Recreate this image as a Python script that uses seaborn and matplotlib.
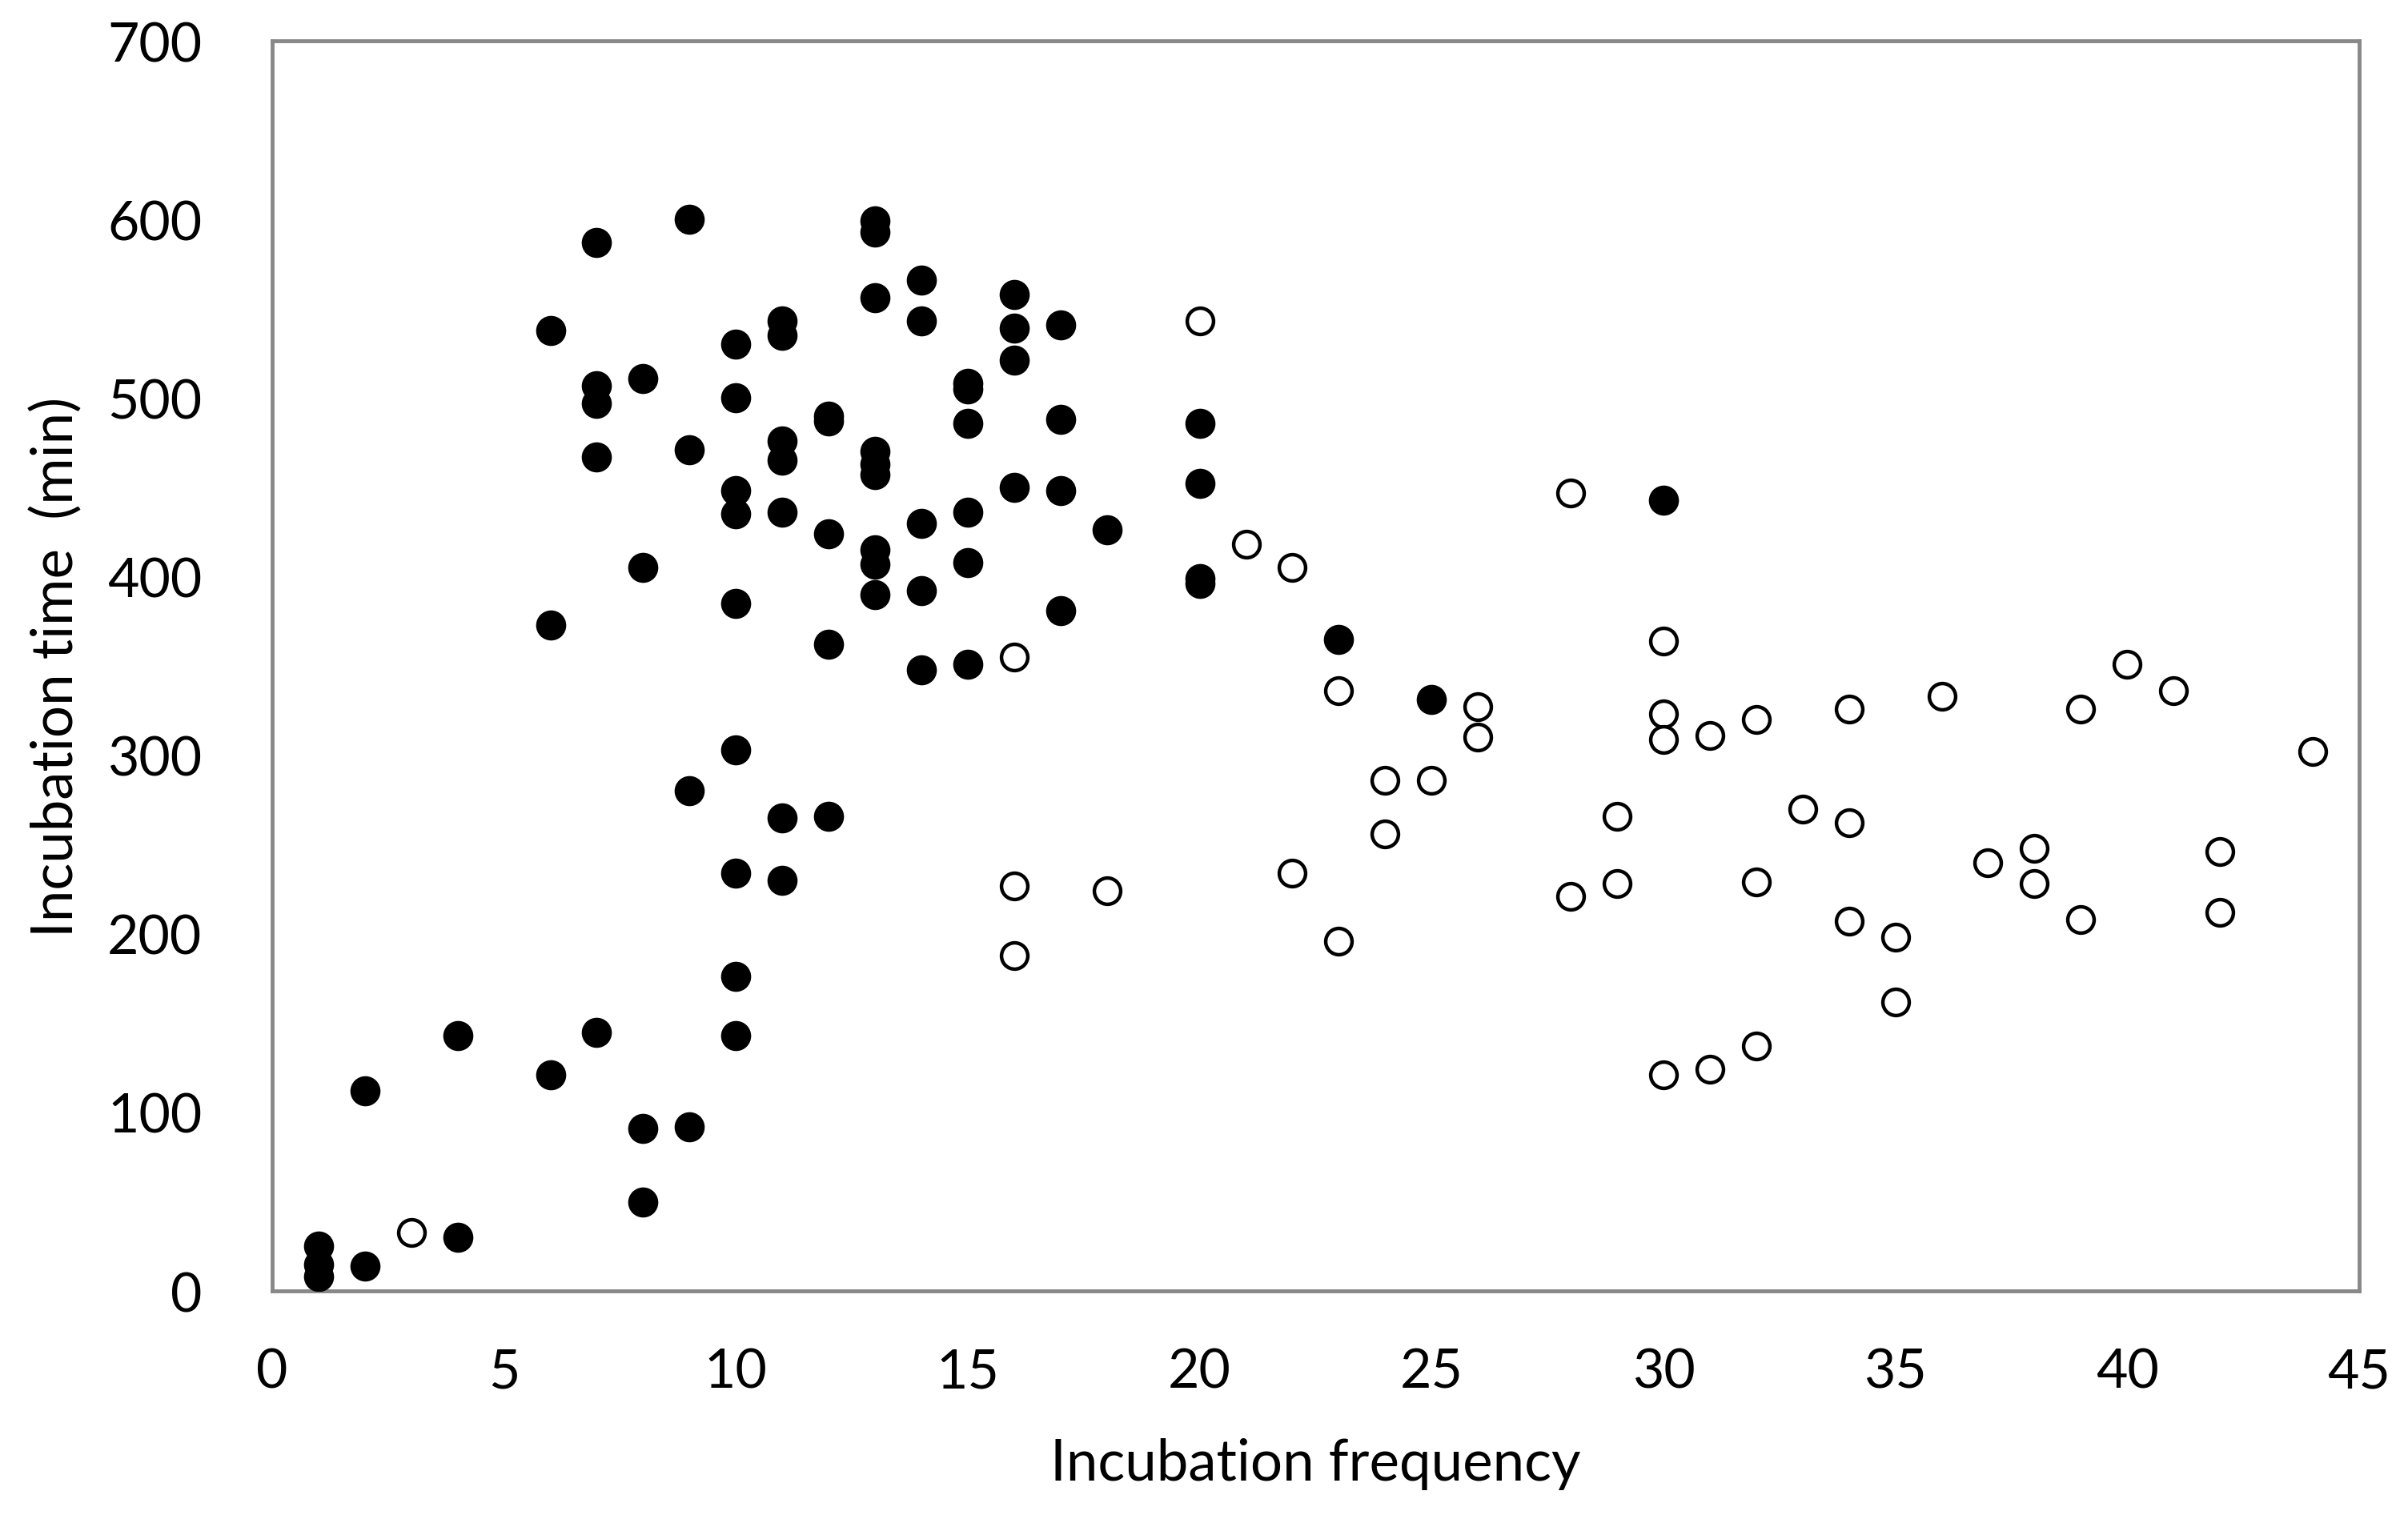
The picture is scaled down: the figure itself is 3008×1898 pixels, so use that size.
import matplotlib
matplotlib.use("Agg")
import matplotlib.pyplot as plt
import seaborn as sns
import pandas as pd

# filled circles
filled_x = [1, 1, 1, 2, 2, 4, 4,
            6, 6, 6, 7, 7, 7, 7, 7, 8, 8, 8, 8, 9, 9, 9, 9,
            10, 10, 10, 10, 10, 10, 10, 10, 10,
            11, 11, 11, 11, 11, 11, 11,
            12, 12, 12, 12, 12,
            13, 13, 13, 13, 13, 13, 13, 13, 13,
            14, 14, 14, 14, 14,
            15, 15, 15, 15, 15, 15,
            16, 16, 16, 16,
            17, 17, 17, 17,
            18, 20, 20, 20, 20, 23, 25, 30]
filled_y = [25, 15, 8, 112, 14, 143, 30,
            538, 373, 121, 587, 507, 497, 467, 145, 511, 405, 91, 50, 600, 471, 280, 92,
            530, 500, 448, 435, 385, 303, 234, 176, 143,
            543, 535, 476, 465, 436, 265, 230,
            490, 487, 424, 362, 266,
            599, 593, 556, 470, 463, 457, 415, 407, 390,
            566, 543, 430, 392, 348,
            508, 505, 486, 436, 408, 351,
            558, 539, 521, 450,
            541, 488, 448, 381,
            426, 486, 452, 399, 396, 365, 331, 443]

# open circles
open_x = [3, 16, 16, 16, 18, 20, 21, 22, 22, 23, 23, 24, 24, 25, 26, 26,
          28, 28, 29, 29, 30, 30, 30, 30, 31, 31, 32, 32, 32, 33,
          34, 34, 34, 35, 35, 36, 37, 38, 38, 39, 39, 40, 41, 42, 42, 44]
open_y = [33, 355, 227, 188, 224, 543, 418, 405, 234, 336, 196, 286, 256, 286, 327, 310,
          447, 221, 266, 228, 364, 323, 309, 121, 311, 124, 320, 229, 137, 270,
          326, 262, 207, 198, 162, 333, 240, 248, 228, 326, 208, 351, 336, 246, 212, 302]

x_ticks = [0, 5, 10, 15, 20, 25, 30, 35, 40, 45]
y_ticks = [0, 100, 200, 300, 400, 500, 600, 700]

df_filled = pd.DataFrame({"freq": filled_x, "time": filled_y})
df_open = pd.DataFrame({"freq": open_x, "time": open_y})

sns.set_style("white")
plt.rcParams["font.family"] = ["Lato", "DejaVu Sans"]

fig = plt.figure(figsize=(30.08, 18.99), dpi=100)
ax = fig.add_axes([0.113, 0.150, 0.8667, 0.8226])

sns.scatterplot(data=df_filled, x="freq", y="time", ax=ax, s=680,
                color="black", edgecolor="black", linewidth=1, zorder=3)
sns.scatterplot(data=df_open, x="freq", y="time", ax=ax, s=560,
                facecolor="white", edgecolor="black", linewidth=3.2, zorder=3)

ax.set_xlim(0, 45)
ax.set_ylim(0, 700)
ax.set_xticks(x_ticks)
ax.set_yticks(y_ticks)
ax.tick_params(axis="both", direction="in", length=16, width=3.5, color="#888888",
               labelsize=49, labelcolor="black")
ax.tick_params(axis="x", pad=51)
ax.tick_params(axis="y", pad=63)
for sp in ax.spines.values():
    sp.set_color("#888888")
    sp.set_linewidth(3.5)
    sp.set_visible(True)

ax.set_xlabel("Incubation frequency", fontsize=51, color="black", labelpad=36)
ax.set_ylabel("Incubation time  (min)", fontsize=51, color="black", labelpad=22)

fig.savefig("out.png", dpi=100)
